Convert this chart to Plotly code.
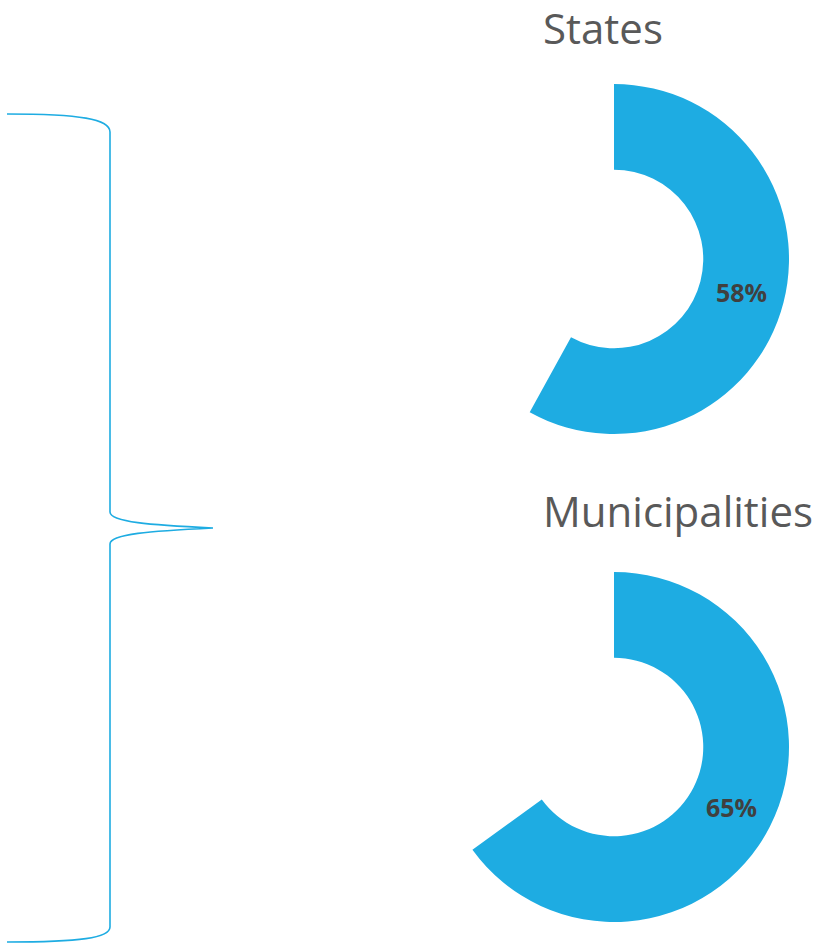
import math
import plotly.graph_objects as go

# Share of each level of government
groups = ["States", "Municipalities"]
shares = [58, 65]

BLUE = "#1EACE2"
W, H = 828, 944

fig = go.Figure()

# Donut placement in pixels: center x, center y, outer radius
CX = 614
centers_y = [259, 747]
R_OUT = 175
HOLE = 0.51

for name, share, cy in zip(groups, shares, centers_y):
    x0, x1 = CX - R_OUT, CX + R_OUT
    y0, y1 = cy - R_OUT, cy + R_OUT
    fig.add_trace(go.Pie(
        values=[share, 100 - share],
        labels=[name, "rest"],
        hole=HOLE,
        sort=False,
        direction="clockwise",
        rotation=0,
        marker=dict(colors=[BLUE, "rgba(0,0,0,0)"], line=dict(width=0)),
        textinfo="none",
        hoverinfo="skip",
        showlegend=False,
        domain=dict(x=[x0 / W, x1 / W], y=[1 - y1 / H, 1 - y0 / H]),
    ))

    # Percentage label at the middle of the filled arc
    mid = math.radians(share / 100 * 360 / 2)
    r_mid = R_OUT * (1 + HOLE) / 2
    fig.add_annotation(
        x=CX + r_mid * math.sin(mid), y=cy - r_mid * math.cos(mid),
        xref="x", yref="y", text=f"<b>{share}%</b>", showarrow=False,
        xanchor="center", yanchor="middle",
        font=dict(family="Open Sans", size=25, color="#404040"),
    )

# Titles above each donut
title_pos = [(541, 1, 4), (541, 484, 4)]
for name, (tx, ty, shift) in zip(groups, title_pos):
    fig.add_annotation(
        x=tx, y=ty, xref="x", yref="y", yshift=shift, text=name,
        showarrow=False, xanchor="left", yanchor="top",
        font=dict(family="Open Sans", size=42, color="#595959"),
    )

# Curly brace on the left
brace = (
    "M 7,114 C 80,114 110,119 110,132 "
    "L 110,512 C 110,522 150,525 213,528 "
    "C 150,531 110,534 110,544 "
    "L 110,927 C 110,938 80,942 7,942"
)
fig.add_shape(type="path", path=brace, xref="x", yref="y",
              line=dict(color=BLUE, width=1.6))

fig.update_layout(
    width=W, height=H,
    margin=dict(l=0, r=0, t=0, b=0),
    paper_bgcolor="white", plot_bgcolor="white",
    xaxis=dict(range=[0, W], visible=False, fixedrange=True),
    yaxis=dict(range=[H, 0], visible=False, fixedrange=True),
)

fig.write_html("out.html")
